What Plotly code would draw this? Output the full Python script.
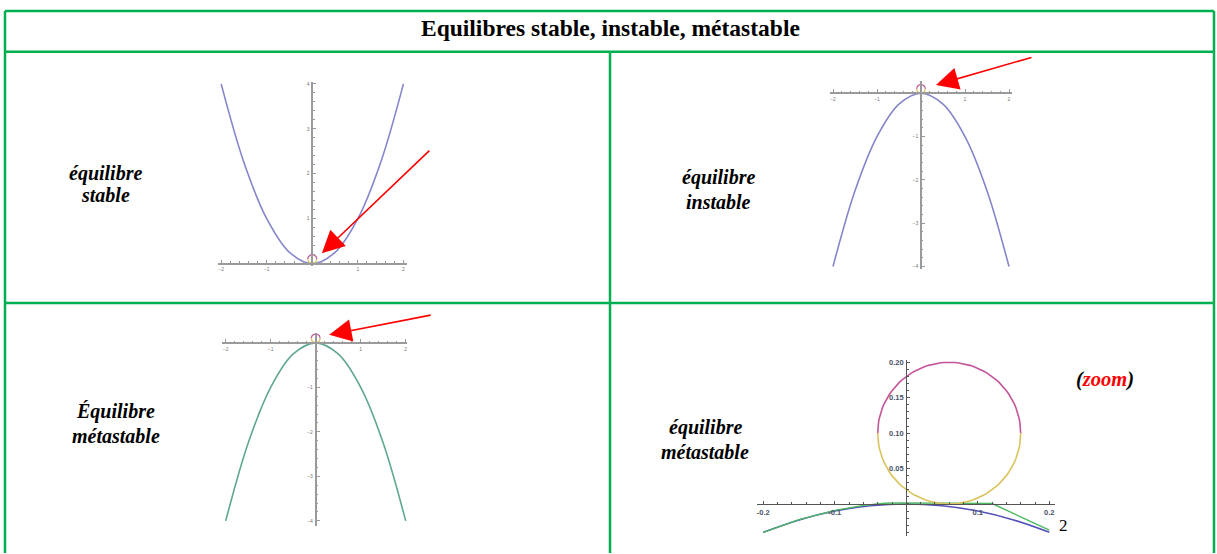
import numpy as np
import plotly.graph_objects as go

# ---------------- data ----------------
title_text = "Equilibres stable, instable, métastable"
labels = [["équilibre", "stable"], ["équilibre", "instable"],
          ["Équilibre", "métastable"], ["équilibre", "métastable"]]

# parabolas
px_vals = [-2.0, -1.5, -1.0, -0.5, 0.0, 0.5, 1.0, 1.5, 2.0]
stable_y = [4.0, 2.25, 1.0, 0.25, 0.0, 0.25, 1.0, 2.25, 4.0]
instable_y = [-4.0, -2.25, -1.0, -0.25, 0.0, -0.25, -1.0, -2.25, -4.0]
meta_y = [-4.0, -2.25, -1.0, -0.25, 0.0, -0.25, -1.0, -2.25, -4.0]

# zoom panel
zoom_x = [-0.2, -0.15, -0.1, -0.05, 0.0, 0.05, 0.1, 0.15, 0.2]
zoom_blue_y = [-0.04, -0.0225, -0.01, -0.0025, 0.0, -0.0025, -0.01, -0.0225, -0.04]
zoom_green_x = [-0.2, -0.15, -0.1, -0.06, -0.03, 0.0, 0.05, 0.08, 0.12, 0.2]
zoom_green_y = [-0.04, -0.022, -0.009, -0.002, 0.001, 0.0015, 0.0012, 0.0006, 0.0006, -0.037]

ball_r_small = 0.1          # ball radius in panels 1-3
ball_zoom_center = (0.06, 0.1)
ball_zoom_r = 0.1

x_ticks_big = [-2, -1, 1, 2]
y_ticks_stable = [1, 2, 3, 4]
y_ticks_neg = [-1, -2, -3, -4]
x_ticks_zoom = [-0.2, -0.1, 0.1, 0.2]
y_ticks_zoom = [0.05, 0.10, 0.15, 0.20]
y_ticktext_zoom = ["0.05", "0.10", "0.15", "0.20"]

# ---------------- layout helpers ----------------
W, H = 1217, 554
GREEN = "#00B050"
SERIF = "Liberation Serif"


def fx(px):
    return px / W


def fy(py):
    return 1 - py / H


# panel geometry in pixels: x-line extent, y-line extent, origin pixel, px per unit
panels = [
    dict(xl=(218, 407), yl=(80, 265), o=(312.3, 263.0), s=(45.575, 45.175)),
    dict(xl=(830, 1011.7), yl=(79, 268), o=(921.0, 91.7), s=(44.0, 43.575)),
    dict(xl=(221.7, 407.3), yl=(333, 527), o=(315.7, 342.7), s=(45.0, 44.75)),
    dict(xl=(757, 1055), yl=(360, 537), o=(906.3, 504.7), s=(715.0, 712.0)),
]

fig = go.Figure()

for i, p in enumerate(panels, start=1):
    (x0, x1), (yt, yb), (ox, oy), (sx, sy) = p["xl"], p["yl"], p["o"], p["s"]
    xr = [(x0 - ox) / sx, (x1 - ox) / sx]
    yr = [(oy - yb) / sy, (oy - yt) / sy]
    zoom = (i == 4)
    axcol = "#555555" if zoom else "#9a9a9a"
    tfont = dict(family="Liberation Sans", size=7.5 if zoom else 5,
                 color="#4a5266" if zoom else "#777777",
                 weight="bold" if zoom else "normal")
    common = dict(showgrid=False, zeroline=False, showline=True, linecolor=axcol,
                  linewidth=1.3 if zoom else 1.6, ticks="inside", ticklen=3, tickwidth=1,
                  tickcolor=axcol, tickfont=tfont, fixedrange=True, anchor="free")
    if i == 1:
        xt, yt_vals, ytt = x_ticks_big, y_ticks_stable, [str(v) for v in y_ticks_stable]
        xtt = ["−2", "−1", "1", "2"]
        mx, my = 0.2, 0.2
    elif i in (2, 3):
        xt, yt_vals, ytt = x_ticks_big, y_ticks_neg, ["−1", "−2", "−3", "−4"]
        xtt = ["−2", "−1", "1", "2"]
        mx, my = 0.2, 0.2
    else:
        xt, yt_vals, ytt = x_ticks_zoom, y_ticks_zoom, y_ticktext_zoom
        xtt = ["-0.2", "-0.1", "0.1", "0.2"]
        mx, my = 0.02, 0.01
    sfx = "" if i == 1 else str(i)
    fig.layout["xaxis" + sfx] = dict(
        common, domain=[fx(x0), fx(x1)], range=xr, position=fy(oy),
        tickvals=xt, ticktext=xtt, ticklabelstandoff=1,
        minor=dict(dtick=mx, ticks="inside", ticklen=1.5, tickcolor=axcol))
    fig.layout["yaxis" + sfx] = dict(
        common, domain=[fy(yb), fy(yt)], range=yr, position=fx(ox),
        tickvals=yt_vals, ticktext=ytt, ticklabelstandoff=1,
        minor=dict(dtick=my, ticks="inside", ticklen=1.5, tickcolor=axcol))

PURPLE = "#8585cc"
TEAL = "#5fa88c"
MAG = "#c4559a"
YEL = "#d9c35c"


def ball(cx, cy, r, xa, ya, w=1.2):
    t_top = np.linspace(0, np.pi, 60)
    t_bot = np.linspace(np.pi, 2 * np.pi, 60)
    for t, c in ((t_top, MAG), (t_bot, YEL)):
        fig.add_trace(go.Scatter(x=cx + r * np.cos(t), y=cy + r * np.sin(t), mode="lines",
                                 line=dict(color=c, width=w), xaxis=xa, yaxis=ya,
                                 hoverinfo="skip", showlegend=False))


# panel 1
fig.add_trace(go.Scatter(x=px_vals, y=stable_y, mode="lines", line=dict(color=PURPLE, width=1.6, shape="spline"),
                         xaxis="x", yaxis="y", showlegend=False))
ball(0, ball_r_small, ball_r_small, "x", "y")
# panel 2
fig.add_trace(go.Scatter(x=px_vals, y=instable_y, mode="lines", line=dict(color=PURPLE, width=1.6, shape="spline"),
                         xaxis="x2", yaxis="y2", showlegend=False))
ball(0, ball_r_small, ball_r_small, "x2", "y2")
# panel 3
fig.add_trace(go.Scatter(x=px_vals, y=meta_y, mode="lines", line=dict(color=TEAL, width=1.6, shape="spline"),
                         xaxis="x3", yaxis="y3", showlegend=False))
ball(0, ball_r_small, ball_r_small, "x3", "y3")
# panel 4
fig.add_trace(go.Scatter(x=zoom_x, y=zoom_blue_y, mode="lines", line=dict(color="#5252b8", width=1.6, shape="spline"),
                         xaxis="x4", yaxis="y4", showlegend=False))
fig.add_trace(go.Scatter(x=zoom_green_x, y=zoom_green_y, mode="lines", line=dict(color="#4cb860", width=1.4),
                         xaxis="x4", yaxis="y4", showlegend=False))
ball(ball_zoom_center[0], ball_zoom_center[1], ball_zoom_r, "x4", "y4", w=1.6)

# ---------------- table borders ----------------
shapes = []


def line(x0, y0, x1, y1):
    shapes.append(dict(type="line", xref="paper", yref="paper", x0=fx(x0), y0=fy(y0), x1=fx(x1), y1=fy(y1),
                       line=dict(color=GREEN, width=2.5)))


line(5, 9, 1214, 9)
line(5, 50, 1214, 50)
line(5, 302.7, 1214, 302.7)
line(5, 9, 5, 554)
line(1214, 9, 1214, 554)
line(610, 50, 610, 554)
fig.update_layout(shapes=shapes)

# ---------------- text ----------------
ann = []


def txt(text, x, y, size, **kw):
    ann.append(dict(text=text, x=fx(x), y=fy(y), xref="paper", yref="paper", showarrow=False,
                    xanchor="center", yanchor="middle",
                    font=dict(family=SERIF, size=size, color="black"), **kw))


txt("<b>" + title_text + "</b>", 610, 26, 23.5)
label_pos = [(105, 172, 194), (718, 176, 201), (116, 412, 436), (705, 428, 452)]
for (cx, y1, y2), (l1, l2) in zip(label_pos, labels):
    txt("<b><i>" + l1 + "</i></b>", cx, y1, 20)
    txt("<b><i>" + l2 + "</i></b>", cx, y2, 20)
txt("<b><i>(<span style='color:#ff0000'>zoom</span>)</i></b>", 1105, 380, 20.5)
txt("2", 1063, 526, 17)

# red arrows (tip in data coords, tail offset in pixels)
arrows = [("x", "y", 0.21, 0.23, 109, -104), ("x2", "y2", 0.34, 0.19, 97, -28),
          ("x3", "y3", 0.30, 0.18, 103, -20)]
for xa, ya, tx, ty, ax, ay in arrows:
    ann.append(dict(x=tx, y=ty, xref=xa, yref=ya, ax=ax, ay=ay, axref="pixel", ayref="pixel", text="",
                    showarrow=True, arrowhead=2, arrowsize=2.8, arrowwidth=1.6, arrowcolor="#ff0000"))
fig.update_layout(annotations=ann)

fig.update_layout(width=W, height=H, margin=dict(l=0, r=0, t=0, b=0), paper_bgcolor="white",
                  plot_bgcolor="rgba(0,0,0,0)", showlegend=False)
fig.write_html("out.html", config={"displayModeBar": False},
               post_script="document.body.style.margin='0';document.body.style.padding='0';")
